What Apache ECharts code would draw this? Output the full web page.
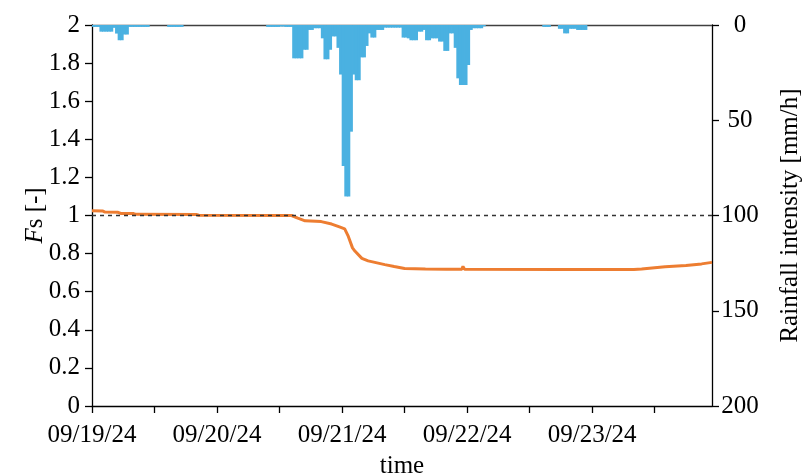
<!DOCTYPE html>
<html>
<head>
<meta charset="utf-8">
<script src="https://cdn.jsdelivr.net/npm/echarts@6/dist/echarts.min.js"></script>
<style>
html,body{margin:0;padding:0;background:#fff;}
#chart{width:802px;height:475px;}
</style>
</head>
<body>
<div id="chart"></div>
<script>
// ---- data ----
// x axis: hours since 09/19/24 00:00
const xMaxHour = 119;
const dateLabels = ['09/19/24', '09/20/24', '09/21/24', '09/22/24', '09/23/24'];
const fsTickLabels = [0, 0.2, 0.4, 0.6, 0.8, 1, 1.2, 1.4, 1.6, 1.8, 2];
const rainTickLabels = [0, 50, 100, 150, 200];

// Fs (factor of safety): time [h] and value
const fsHours = [0, 2, 2.5, 5, 5.5, 8, 8.5, 20, 20.5, 38.3, 39.5, 40.9, 44, 46, 47.5, 48.5, 49.2, 50, 50.5, 51.8, 53, 56.2, 58, 60, 64, 68, 71, 71.2, 71.5, 90, 104, 105.5, 107.5, 110, 114, 117, 119];
const fsValues = [1.025, 1.024, 1.018, 1.017, 1.011, 1.010, 1.006, 1.005, 1.001, 1.0, 0.986, 0.972, 0.968, 0.955, 0.94, 0.93, 0.89, 0.83, 0.812, 0.775, 0.762, 0.742, 0.732, 0.722, 0.719, 0.718, 0.718, 0.733, 0.718, 0.717, 0.717, 0.719, 0.725, 0.731, 0.738, 0.746, 0.754];

// Rainfall intensity [mm/h], 30-minute bins starting 09/19/24 00:00
const rainBinHours = 0.5;
const rain = [
  1,1,1,3.5,3.5,3.5,3.5,3.5,1.5,4.5,8,8,5,5,1,1,1,1,1,1,1,1,0,0,
  0,0,0,0,0,1,1,1,1,1,1,0,0,0,0,0,0,0,0,0,0,0,0,0,
  0,0,0,0,0,0,0,0,0,0,0,0,0,0,0,0,0,0,0,1,1,1,1,1,
  0.8,0.8,1,1,1,17.5,17.5,17.5,17.5,13,13,2.6,2.6,1.7,1.7,1.7,7,18,18,13,6,6,12,26,
  74,90,90,56,26,29,29,17,17,11,4.4,6.6,6.6,2.6,2.6,2.6,1.4,1.4,1.4,1.4,1.4,1.4,1.4,6.6,
  6.6,7,8,8,8,3.5,3.5,2.6,8,8,7,7,7,8.7,8.7,13.6,13.6,4.4,4.4,12,28,31.5,31.5,31.5,
  21,2.6,1.7,1.7,1.7,1.7,0.7,0,0,0,0,0,0,0,0,0,0,0,0,0,0,0,0,0,
  0,0,0,0,0,1,1,1,0,0,0,2,2,4.4,4.4,2,2,2,2.6,2.6,2.6,2.6,0,0,
  0,0,0,0,0,0,0,0,0,0,0,0,0,0,0,0,0,0,0,0,0,0,0,0,
  0,0,0,0,0,0,0,0,0,0,0,0,0,0,0,0,0,0,0,0,0,0
];
const rainBins = rain.map((_, i) => String(i * rainBinHours));

// ---- chart ----
const FONT = "'Liberation Serif','Times New Roman',serif";
const FS = 25;
const RAIN_COLOR = '#4AB1E1';
const chart = echarts.init(document.getElementById('chart'), null, {renderer: 'canvas'});
chart.setOption({
  animation: false,
  backgroundColor: '#fff',
  textStyle: {fontFamily: FONT},
  grid: {left: 92, right: 90, top: 25, bottom: 69, containLabel: false, outerBoundsMode: 'none'},
  xAxis: [
    {
      type: 'value', min: 0, max: xMaxHour, interval: 12,
      name: 'time', nameLocation: 'middle', nameGap: 48,
      nameTextStyle: {fontFamily: FONT, fontSize: FS, color: '#000'},
      axisLine: {show: true, lineStyle: {color: '#000', width: 1.3}},
      axisTick: {show: true, length: 7, inside: false, lineStyle: {color: '#000', width: 1.3}},
      axisLabel: {
        fontFamily: FONT, fontSize: FS, color: '#000', margin: 17,
        showMaxLabel: false,
        formatter: v => (v % 24 === 0 && dateLabels[v / 24]) ? dateLabels[v / 24] : ''
      },
      splitLine: {show: false}
    },
    {
      type: 'category', position: 'top', data: rainBins, boundaryGap: true,
      axisLine: {show: true, lineStyle: {color: '#404040', width: 1.3}},
      axisTick: {show: false}, axisLabel: {show: false}, splitLine: {show: false}
    }
  ],
  yAxis: [
    {
      type: 'value', min: 0, max: 2, interval: 0.2, position: 'left',
      name: '{i|F}s [-]', nameLocation: 'middle', nameGap: 44,
      nameMoveOverlap: false,
      nameTextStyle: {fontFamily: FONT, fontSize: FS, color: '#000',
        rich: {i: {fontFamily: FONT, fontSize: FS, fontStyle: 'italic', color: '#000'}}},
      axisLine: {show: true, lineStyle: {color: '#000', width: 1.3}},
      axisTick: {show: true, length: 7, lineStyle: {color: '#000', width: 1.3}},
      axisLabel: {fontFamily: FONT, fontSize: FS, color: '#000', margin: 12,
        formatter: v => { const f = fsTickLabels.find(t => Math.abs(t - v) < 1e-6); return f === undefined ? '' : String(f); }},
      splitLine: {show: false}
    },
    {
      type: 'value', min: 0, max: 200, interval: 50, position: 'right', inverse: true,
      name: 'Rainfall intensity [mm/h]', nameLocation: 'middle', nameGap: 66,
      nameMoveOverlap: false,
      nameTextStyle: {fontFamily: FONT, fontSize: FS, color: '#000'},
      axisLine: {show: true, lineStyle: {color: '#000', width: 1.3}},
      axisTick: {show: true, length: 7, lineStyle: {color: '#000', width: 1.3}},
      axisLabel: {fontFamily: FONT, fontSize: FS, color: '#000', margin: 28, align: 'center',
        formatter: v => rainTickLabels.includes(v) ? String(v) : ''},
      splitLine: {show: false}
    }
  ],
  series: [
    {
      name: 'Rainfall', type: 'bar', xAxisIndex: 1, yAxisIndex: 1,
      data: rain, barWidth: 3.4, barGap: '-100%',
      itemStyle: {color: RAIN_COLOR},
      silent: true, z: 2
    },
    {
      name: 'Fs', type: 'line', xAxisIndex: 0, yAxisIndex: 0,
      data: fsHours.map((h, i) => [h, fsValues[i]]),
      showSymbol: false, symbol: 'none',
      lineStyle: {color: '#ED7D31', width: 3},
      z: 3,
      markLine: {
        silent: true, symbol: ['none', 'none'],
        label: {show: false},
        lineStyle: {color: '#333', type: [4, 4], width: 1.3},
        data: [{yAxis: 1}]
      }
    }
  ]
});
</script>
</body>
</html>
